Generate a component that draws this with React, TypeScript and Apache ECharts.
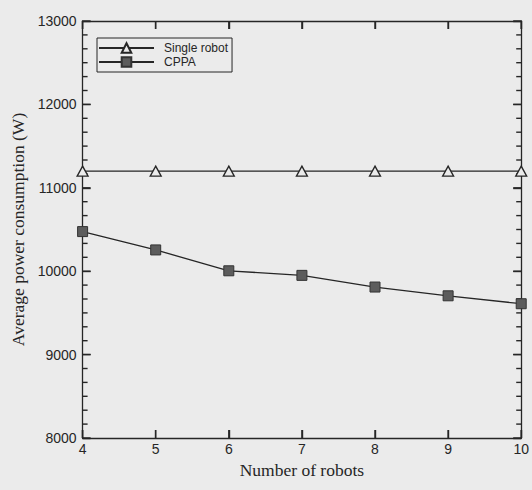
import React, { useEffect, useRef } from "react";
import * as echarts from "echarts";

const robots = [4, 5, 6, 7, 8, 9, 10];
const singleRobot = [11200, 11200, 11200, 11200, 11200, 11200, 11200];
const cppa = [10475, 10255, 10005, 9950, 9810, 9705, 9610];
const seriesNames = ["Single robot", "CPPA"];
const xTitle = "Number of robots";
const yTitle = "Average power consumption (W)";
const xMin = 4;
const xMax = 10;
const yMin = 8000;
const yMax = 13000;
const yStep = 1000;
const yMinorDivisions = 6;

const INK = "#262626";
const BG = "#ebebeb";
const SANS = "'Liberation Sans', Arial, Helvetica, sans-serif";
const SERIF = "'Liberation Serif', 'Times New Roman', serif";
const MAJOR_LEN = 8;
const MINOR_LEN = 5;
const TICK_W = 1.4;

export default function App() {
  const ref = useRef<HTMLDivElement>(null);
  useEffect(() => {
    if (!ref.current) return;
    const chart = echarts.init(ref.current, null, { renderer: "svg" });

    const nY = ((yMax - yMin) / yStep) * yMinorDivisions;
    const yTickData: number[][] = [];
    for (let i = 0; i <= nY; i++) {
      yTickData.push([xMin, yMin + (i * yStep) / yMinorDivisions, i % yMinorDivisions === 0 ? MAJOR_LEN : MINOR_LEN]);
    }
    const xTickData = robots.map((r) => [r, yMin, MAJOR_LEN]);

    const axisLine = { show: true, onZero: false, lineStyle: { color: INK, width: 1.3 } };
    const axisTick = { show: true, inside: true, length: MAJOR_LEN, lineStyle: { color: INK, width: TICK_W } };
    const lineEl = (x1: number, y1: number, x2: number, y2: number) => ({
      type: "line",
      shape: { x1, y1, x2, y2 },
      style: { stroke: INK, lineWidth: TICK_W },
    });

    chart.setOption({
      animation: false,
      backgroundColor: BG,
      grid: { left: 82.6, right: 8, top: 21, bottom: 52 },
      legend: {
        left: 97,
        top: 38,
        orient: "vertical",
        itemWidth: 55,
        itemHeight: 12,
        itemGap: 2,
        padding: [4, 4, 4, 1],
        borderColor: INK,
        borderWidth: 1,
        backgroundColor: BG,
        textStyle: { fontFamily: SANS, fontSize: 12, color: INK, padding: [0, 0, 0, 5] },
        data: seriesNames,
      },
      xAxis: [
        {
          type: "value",
          min: xMin,
          max: xMax,
          interval: 1,
          position: "bottom",
          axisLine,
          splitLine: { show: false },
          axisTick,
          name: xTitle,
          nameLocation: "middle",
          nameGap: 21,
          nameTextStyle: { fontFamily: SERIF, fontSize: 17.5, color: INK },
          axisLabel: { show: true, margin: 4, fontFamily: SANS, fontSize: 14, color: INK },
        },
        {
          type: "value",
          min: xMin,
          max: xMax,
          interval: 1,
          position: "top",
          axisLine,
          splitLine: { show: false },
          axisTick,
          axisLabel: { show: false },
        },
      ],
      yAxis: [
        {
          type: "value",
          min: yMin,
          max: yMax,
          interval: yStep,
          position: "left",
          axisLine,
          splitLine: { show: false },
          axisTick,
          name: yTitle,
          nameLocation: "middle",
          nameGap: 51,
          nameTextStyle: { fontFamily: SERIF, fontSize: 17.5, color: INK },
          axisLabel: {
            show: true,
            margin: 6,
            fontFamily: SANS,
            fontSize: 14,
            color: INK,
            formatter: (v: number) => String(v),
          },
        },
        {
          type: "value",
          min: yMin,
          max: yMax,
          interval: yStep,
          position: "right",
          axisLine,
          splitLine: { show: false },
          axisTick,
          axisLabel: { show: false },
        },
      ],
      series: [
        {
          name: "yTicks",
          type: "custom",
          xAxisIndex: 0,
          yAxisIndex: 0,
          silent: true,
          clip: false,
          z: 2,
          encode: { x: 0, y: 1 },
          data: yTickData,
          renderItem: (_p: any, api: any) => {
            const v = api.value(1);
            const len = api.value(2);
            const l = api.coord([xMin, v]);
            const r = api.coord([xMax, v]);
            return {
              type: "group",
              children: [lineEl(l[0], l[1], l[0] + len, l[1]), lineEl(r[0] - len, r[1], r[0], r[1])],
            };
          },
        },
        {
          name: "xTicks",
          type: "custom",
          xAxisIndex: 0,
          yAxisIndex: 0,
          silent: true,
          clip: false,
          z: 2,
          encode: { x: 0, y: 1 },
          data: xTickData,
          renderItem: (_p: any, api: any) => {
            const v = api.value(0);
            const len = api.value(2);
            const b = api.coord([v, yMin]);
            const t = api.coord([v, yMax]);
            return {
              type: "group",
              children: [lineEl(b[0], b[1], b[0], b[1] - len), lineEl(t[0], t[1], t[0], t[1] + len)],
            };
          },
        },
        {
          name: seriesNames[0],
          type: "line",
          xAxisIndex: 0,
          yAxisIndex: 0,
          data: robots.map((r, i) => [r, singleRobot[i]]),
          symbol: "triangle",
          symbolSize: [11, 10],
          lineStyle: { color: INK, width: 1.3 },
          itemStyle: { color: BG, borderColor: INK, borderWidth: 1.3 },
          z: 3,
        },
        {
          name: seriesNames[1],
          type: "line",
          xAxisIndex: 0,
          yAxisIndex: 0,
          data: robots.map((r, i) => [r, cppa[i]]),
          symbol: "rect",
          symbolSize: 10,
          lineStyle: { color: INK, width: 1.3 },
          itemStyle: { color: "#5c5c5c", borderColor: "#333", borderWidth: 1 },
          z: 3,
        },
      ],
    });
    return () => chart.dispose();
  }, []);
  return (
    <div
      ref={ref}
      style={{ position: "absolute", left: 0, top: 0, width: 532, height: 490 }}
    />
  );
}
